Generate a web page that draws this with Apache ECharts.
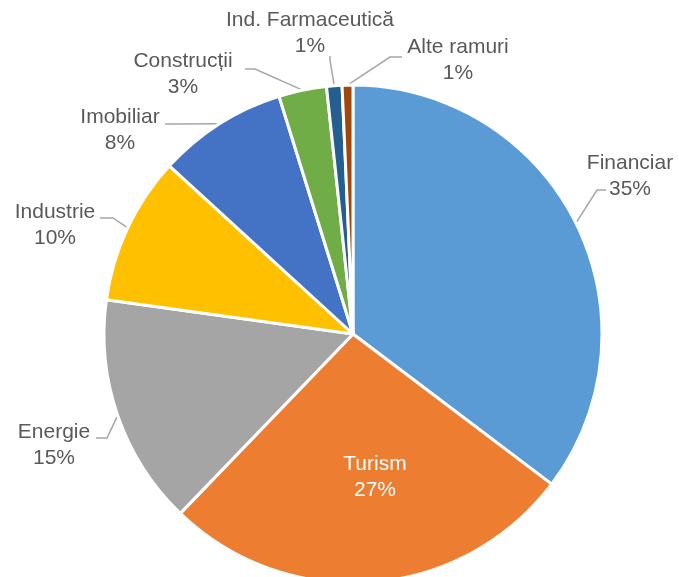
<!DOCTYPE html>
<html>
<head>
<meta charset="utf-8">
<script src="https://cdn.jsdelivr.net/npm/echarts@6/dist/echarts.min.js"></script>
<style>
html,body{margin:0;padding:0;background:#fff;}
#main{width:679px;height:577px;}
</style>
</head>
<body>
<div id="main"></div>
<script>
// ramuri si ponderi (%)
var ramuri = ['Financiar', 'Turism', 'Energie', 'Industrie', 'Imobiliar', 'Construcții', 'Ind. Farmaceutică', 'Alte ramuri'];
var ponderi = [35.3, 26.9, 15.0, 9.6, 8.4, 3.1, 1.0, 0.7];
var culori = ['#5B9BD5', '#ED7D31', '#A5A5A5', '#FFC000', '#4472C4', '#70AD47', '#255E91', '#9E480E'];

// pozitia etichetelor (centru text)
var pozEtichete = [[630, 176], [375, 477], [54, 445], [55, 225], [120, 130], [183, 74], [310, 33], [458, 60]];
// cot si capat linie de legatura
var linii = [
	[[597, 190], [606, 190]],
	null,
	[[107, 438], [96, 438]],
	[[113, 218], [100, 218]],
	[[175, 124], [165, 124]],
	[[255, 69], [245, 69]],
	[[330, 60], [330, 56]],
	[[390, 57], [402, 57]]
];

var chart = echarts.init(document.getElementById('main'));

var date = ramuri.map(function (n, i) {
	var d = {name: n, value: ponderi[i], itemStyle: {color: culori[i]}};
	if (n == 'Turism') {
		d.label = {color: '#fff'};
		d.labelLine = {show: false};
	}
	return d;
});

chart.setOption({
	animation: false,
	series: [{
		type: 'pie',
		center: [353, 334],
		radius: 249,
		startAngle: 90,
		clockwise: true,
		avoidLabelOverlap: false,
		itemStyle: {borderColor: '#fff', borderWidth: 3},
		label: {
			show: true,
			fontFamily: 'Liberation Sans, Arial, sans-serif',
			fontSize: 21,
			lineHeight: 26,
			color: '#595959',
			align: 'center',
			formatter: function (p) {
				return p.name + '\n' + Math.round(p.percent) + '%';
			}
		},
		labelLine: {
			show: true,
			length: 15,
			length2: 10,
			lineStyle: {color: '#A6A6A6', width: 1.5}
		},
		labelLayout: function (p) {
			var pos = pozEtichete[p.dataIndex];
			var res = {
				x: pos[0],
				y: pos[1],
				align: 'center',
				verticalAlign: 'middle'
			};
			var l = linii[p.dataIndex];
			if (l && p.labelLinePoints) {
				res.labelLinePoints = [p.labelLinePoints[0], l[0], l[1]];
			}
			return res;
		},
		data: date
	}]
});
</script>
</body>
</html>
